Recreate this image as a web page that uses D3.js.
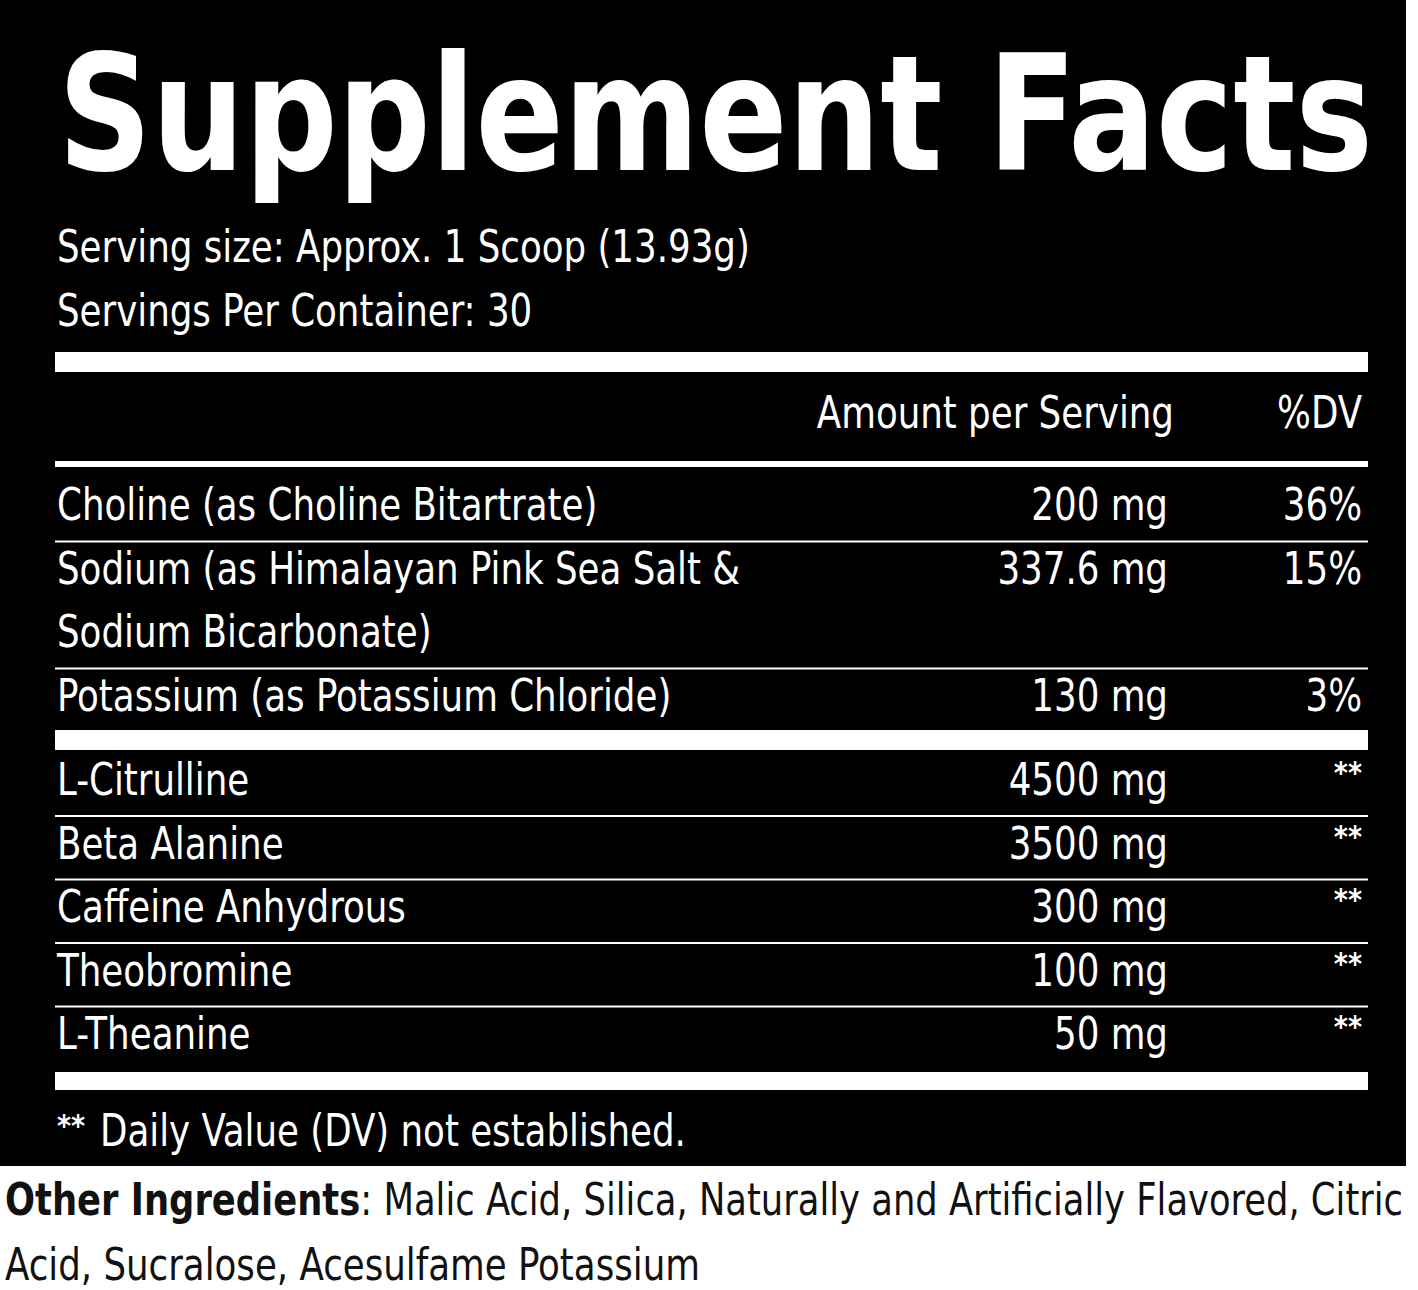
<!DOCTYPE html>
<html><head><meta charset="utf-8">
<script src="https://cdn.jsdelivr.net/npm/d3@7"></script>
<style>body{margin:0;background:#fff}svg{display:block}</style>
</head><body>
<svg width="1418" height="1290"></svg>
<script>
const font = "'Liberation Sans Narrow','DejaVu Sans Condensed',sans-serif";
const servingLines = ["Serving size: Approx. 1 Scoop (13.93g)", "Servings Per Container: 30"];
const group1Names = [["Choline (as Choline Bitartrate)"], ["Sodium (as Himalayan Pink Sea Salt &", "Sodium Bicarbonate)"], ["Potassium (as Potassium Chloride)"]];
const group1Amounts = ["200 mg", "337.6 mg", "130 mg"];
const group1DV = ["36%", "15%", "3%"];
const group2Names = ["L-Citrulline", "Beta Alanine", "Caffeine Anhydrous", "Theobromine", "L-Theanine"];
const group2Amounts = ["4500 mg", "3500 mg", "300 mg", "100 mg", "50 mg"];
const otherLines = ["Malic Acid, Silica, Naturally and Artificially Flavored, Citric", "Acid, Sucralose, Acesulfame Potassium"];

const svg = d3.select("svg");
const x = d3.scaleLinear().domain([0, 1]).range([55, 1368]);
const lineY = d3.scaleLinear().domain([0, 1]).range([0, 63.5]); // one text line height
const squeeze = 0.9;

svg.append("rect").attr("x", 0).attr("y", 0).attr("width", 1406).attr("height", 1166).attr("fill", "#000");

function txt(s, px, py, size, anchor, color, weight) {
  const t = svg.append("text").attr("x", px).attr("y", py)
    .attr("font-family", font).attr("font-size", size)
    .attr("text-anchor", anchor || "start").attr("fill", color || "#fff")
    .attr("font-weight", weight || "normal").text(s);
  return t;
}
function narrow(t) {
  const w = t.node().getComputedTextLength();
  if (w > 0) t.attr("textLength", w * squeeze).attr("lengthAdjust", "spacingAndGlyphs");
  return t;
}
function bar(y0, h) {
  svg.append("rect").attr("x", x(0)).attr("y", y0).attr("width", x(1) - x(0)).attr("height", h).attr("fill", "#fff");
}

txt("Supplement Facts", 58, 170, 160, "start", "#fff", "bold").attr("textLength", 1315).attr("lengthAdjust", "spacingAndGlyphs");
servingLines.forEach((s, i) => narrow(txt(s, 57, 262 + lineY(i), 44)));
bar(352, 20);
narrow(txt("Amount per Serving", 1174, 428, 44, "end"));
narrow(txt("%DV", 1362, 428, 44, "end"));
bar(461, 6);

const amtX = 1168, dvX = 1362;
let y = 520;
group1Names.forEach((lines, i) => {
  lines.forEach((s, j) => narrow(txt(s, 57, y + lineY(j), 44)));
  narrow(txt(group1Amounts[i], amtX, y, 44, "end"));
  narrow(txt(group1DV[i], dvX, y, 44, "end"));
  y += lineY(lines.length);
  if (i < group1Names.length - 1) bar(y - 43, 2);
});
bar(730, 20);
y = 795;
group2Names.forEach((s, i) => {
  const yy = y + lineY(i);
  narrow(txt(s, 57, yy, 44));
  narrow(txt(group2Amounts[i], amtX, yy, 44, "end"));
  txt("**", dvX, yy - 12, 30, "end", "#fff", "bold");
  if (i < group2Names.length - 1) bar(yy + 20, 2);
});
bar(1072, 18);
txt("**", 57, 1136, 30, "start", "#fff", "bold");
narrow(txt("Daily Value (DV) not established.", 100, 1146, 44));

const o = txt("", 5, 1215, 44, "start", "#111");
o.append("tspan").attr("font-weight", "bold").text("Other Ingredients");
o.append("tspan").text(": " + otherLines[0]);
o.attr("textLength", 1398).attr("lengthAdjust", "spacingAndGlyphs");
narrow(txt(otherLines[1], 5, 1280, 44, "start", "#111"));
</script>
</body></html>
